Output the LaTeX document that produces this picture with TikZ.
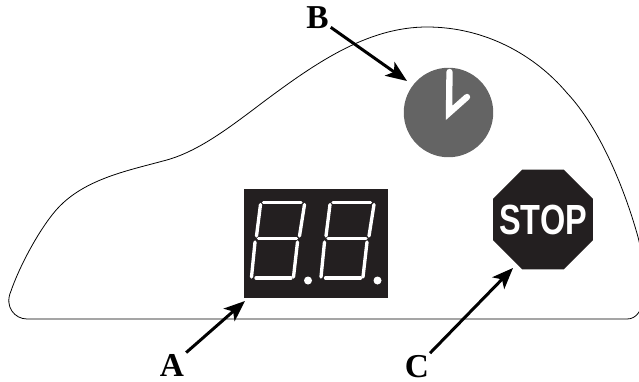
\documentclass[tikz,border=0pt]{standalone}
\usepackage{fontspec}
\setmainfont{Liberation Serif}
\setsansfont{Liberation Sans}
\usepackage{graphicx}
\usetikzlibrary{arrows.meta,shapes.geometric}
\definecolor{panelblack}{HTML}{231F20}
\definecolor{clockgray}{HTML}{646464}
\begin{document}
\begin{tikzpicture}[x=0.02cm,y=-0.02cm]
  \tikzset{ lbl/.style={font=\fontsize{19}{19}\selectfont\bfseries,inner sep=1pt},
    pointer/.style={-{Stealth[length=12pt,width=9.5pt,inset=3pt]},line width=1.7pt},
    seg/.style={white,line width=1.9pt,line cap=round},
    hand/.style={white,line width=3.6pt,line cap=round},
  }
  \useasboundingbox (0,0) rectangle (639,382);

  % the outline of the panel
  \begin{scope}
    \clip (0,0) rectangle (639,382);
    \draw[line width=0.45pt] (27,319) .. controls (15,319) and (4,307) .. (11,291)
      .. controls (21,262) and (45,219) .. (63,203)
      .. controls (90,178) and (130,170) .. (163,161)
      .. controls (200,152) and (235,123) .. (270,97)
      .. controls (320,60) and (370,27) .. (427,27)
      .. controls (485,27) and (535,55) .. (567,93)
      .. controls (600,128) and (625,190) .. (638,237)
      .. controls (650,285) and (646,319) .. (627,319) -- cycle;
  \end{scope}

  \node[fill=panelblack,minimum width=2.88cm,minimum height=2.18cm,inner sep=0pt] (display) at (316,243.5) {};
  \node[circle,fill=clockgray,minimum size=1.79cm,inner sep=0pt] (clock) at (448.5,112.5) {};
  \node[regular polygon,regular polygon sides=8,fill=panelblack,minimum size=2.165cm,inner sep=0pt] (stop) at (543,219.5) {};
  \node[white,inner sep=0pt] (stoptext) at (stop.center) {\scalebox{.77}[1]{\fontsize{24}{24}\selectfont\sffamily\bfseries STOP}};

  % the hands of the clock
  \coordinate (hour) at (467,97);
  \coordinate (minute) at (449.5,72);
  \draw[hand] (minute) -- (449,113) -- (hour);

  % the two digits and their dots
  \foreach \dx in {0,69.5} {
    \begin{scope}[xshift=\dx*0.02cm]
      \draw[seg] (263.5,202.5) -- (301,202.5);
      \draw[seg] (260.5,204.5) -- (256.5,236);
      \draw[seg] (304.5,204.5) -- (299.5,236);
      \draw[seg] (258.5,238.7) -- (296.5,238.7);
      \draw[seg] (255,242) -- (251.5,277);
      \draw[seg] (297.5,242) -- (293.5,277);
      \draw[seg] (256,278) -- (291,278);
      \fill[white] (308,280.5) circle (4);
    \end{scope}
  }

  \node[lbl] (lblA) at (172,365) {A};
  \node[lbl] (lblB) at (317.5,18) {B};
  \node[lbl] (lblC) at (417,366.5) {C};
  \coordinate (tipA) at (245,301);
  \coordinate (tipB) at (407,81);
  \coordinate (tipC) at (513,268);

  % the connection between the labels and the parts
  \draw[pointer] (lblA) -- (tipA);
  \draw[pointer] (lblB) -- (tipB);
  \draw[pointer] (lblC) -- (tipC);
\end{tikzpicture}
\end{document}
